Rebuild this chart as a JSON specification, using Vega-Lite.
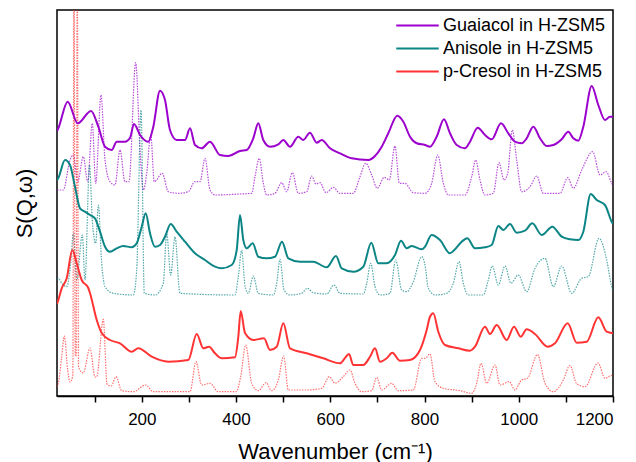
{
  "$schema": "https://vega.github.io/schema/vega-lite/v6.json",
  "width": 556,
  "height": 386,
  "autosize": "none",
  "padding": {"left": 57, "top": 10, "right": 23, "bottom": 66},
  "config": {
    "font": "Liberation Sans",
    "view": {"stroke": "black", "strokeWidth": 1.5},
    "axis": {"grid": false, "labelColor": "black", "titleColor": "black", "titleFontWeight": "normal", "labelFont": "Liberation Sans", "titleFont": "Liberation Sans"}
  },
  "datasets": {
    "guaiacol_exp": [{"w":20,"s":265},{"w":22.8,"s":267.7},{"w":42.7,"s":294.3},{"w":63.9,"s":272.7},{"w":92.2,"s":285},{"w":107.7,"s":269.3},{"w":121.9,"s":249.3},{"w":136.1,"s":246},{"w":146.7,"s":254.3},{"w":164.3,"s":254.3},{"w":174.9,"s":258},{"w":183.4,"s":272},{"w":196.2,"s":261},{"w":213.8,"s":254.3},{"w":224.4,"s":269.3},{"w":238.6,"s":305.3},{"w":249.2,"s":296},{"w":259.8,"s":266},{"w":274,"s":256},{"w":291.7,"s":256},{"w":302.3,"s":267.7},{"w":312.9,"s":251},{"w":327.1,"s":247.7},{"w":344.7,"s":254.3},{"w":365.9,"s":241},{"w":383.6,"s":240},{"w":408.4,"s":245},{"w":422.6,"s":246},{"w":436.6,"s":257.7},{"w":447.2,"s":272.7},{"w":457.8,"s":256},{"w":472,"s":249.3},{"w":489.7,"s":251.7},{"w":500.3,"s":256},{"w":514.5,"s":249.3},{"w":532.1,"s":259.3},{"w":542.7,"s":256},{"w":556.9,"s":263.3},{"w":571.2,"s":253.3},{"w":581.8,"s":256},{"w":599.4,"s":247.7},{"w":620.6,"s":242.7},{"w":645.4,"s":237.7},{"w":680.7,"s":236},{"w":694.9,"s":240},{"w":709.1,"s":249.3},{"w":723.1,"s":262.7},{"w":742.2,"s":280.3},{"w":755,"s":274.3},{"w":769.2,"s":259.3},{"w":783.4,"s":252.7},{"w":801,"s":251},{"w":811.6,"s":249.3},{"w":825.8,"s":259.3},{"w":841.3,"s":276.7},{"w":854.1,"s":262.7},{"w":868.3,"s":251},{"w":885.9,"s":247.7},{"w":896.5,"s":254.3},{"w":912.9,"s":268.3},{"w":928.3,"s":261},{"w":942.6,"s":256.7},{"w":962.3,"s":272.7},{"w":977.8,"s":262.7},{"w":992,"s":254.3},{"w":1006.2,"s":252.7},{"w":1016.8,"s":257.7},{"w":1030.9,"s":269.3},{"w":1045.1,"s":257.7},{"w":1059.3,"s":250},{"w":1073.3,"s":251},{"w":1091.1,"s":256.7},{"w":1105.1,"s":264.3},{"w":1115.8,"s":257.7},{"w":1126.4,"s":255.3},{"w":1137,"s":269.3},{"w":1154.8,"s":310},{"w":1168.8,"s":291},{"w":1183,"s":276},{"w":1193.6,"s":279.3},{"w":1200,"s":279.3}],
    "guaiacol_calc": [{"w":20,"s":206},{"w":33.4,"s":206},{"w":47.6,"s":236},{"w":54.6,"s":241},{"w":63.9,"s":214.3},{"w":75.8,"s":239.3},{"w":85.2,"s":214.3},{"w":94.9,"s":272.7},{"w":102.1,"s":212.7},{"w":113.4,"s":301},{"w":121.9,"s":236},{"w":132.5,"s":214.3},{"w":143.1,"s":211},{"w":153.7,"s":246},{"w":164.3,"s":214.3},{"w":172.8,"s":214.3},{"w":187,"s":333.3},{"w":196.2,"s":246},{"w":203.2,"s":206},{"w":210.4,"s":222.7},{"w":218.9,"s":261},{"w":226.5,"s":214.3},{"w":243.5,"s":222.7},{"w":256.2,"s":204.3},{"w":277.4,"s":202.7},{"w":298.7,"s":204.3},{"w":312.9,"s":214.3},{"w":323.5,"s":214.3},{"w":334.1,"s":237.7},{"w":344.7,"s":206},{"w":355.3,"s":201},{"w":408.4,"s":202},{"w":433.2,"s":202.7},{"w":440.2,"s":219.3},{"w":449.3,"s":237.7},{"w":457.8,"s":212.7},{"w":465,"s":201},{"w":482.7,"s":202.7},{"w":496.9,"s":213.3},{"w":507.5,"s":204.3},{"w":519.4,"s":223.3},{"w":532.1,"s":202.7},{"w":549.9,"s":204.3},{"w":560.5,"s":220},{"w":569.7,"s":212},{"w":578.2,"s":213.3},{"w":590.9,"s":203.3},{"w":606.4,"s":208.7},{"w":620.6,"s":202.7},{"w":648.9,"s":202.7},{"w":663,"s":219.3},{"w":675.1,"s":232.7},{"w":687.9,"s":221},{"w":699.8,"s":207.7},{"w":714.6,"s":218.7},{"w":725.2,"s":216},{"w":737.3,"s":250},{"w":746.5,"s":212.7},{"w":758.5,"s":212.7},{"w":776.2,"s":203.3},{"w":801,"s":202.7},{"w":815.2,"s":212.7},{"w":828,"s":241},{"w":839.9,"s":212.7},{"w":850.5,"s":201},{"w":885.9,"s":201},{"w":900.1,"s":219.3},{"w":908.6,"s":236},{"w":917.7,"s":216},{"w":928.3,"s":201},{"w":946,"s":202.7},{"w":958,"s":233.3},{"w":968.7,"s":216},{"w":976.5,"s":222.7},{"w":986.3,"s":266},{"w":995.6,"s":236},{"w":1006.2,"s":204.3},{"w":1023.9,"s":209.3},{"w":1038.1,"s":220},{"w":1052.1,"s":202.7},{"w":1087.5,"s":202.7},{"w":1103.8,"s":218.3},{"w":1115.8,"s":207.7},{"w":1133.6,"s":226},{"w":1156.9,"s":244.3},{"w":1172.4,"s":221},{"w":1185.1,"s":224.3},{"w":1197.2,"s":212.7},{"w":1200,"s":210}],
    "anisole_exp": [{"w":20,"s":216},{"w":22.8,"s":218},{"w":37,"s":236},{"w":47.6,"s":231},{"w":58.2,"s":209.3},{"w":68.8,"s":187.7},{"w":79.4,"s":184.3},{"w":90,"s":181},{"w":100.6,"s":177.7},{"w":111.3,"s":164.3},{"w":121.9,"s":149.3},{"w":132.5,"s":144.3},{"w":146.7,"s":147.7},{"w":160.7,"s":150},{"w":178.5,"s":148.7},{"w":189.2,"s":152.7},{"w":199.8,"s":169.3},{"w":208.2,"s":182.7},{"w":217.4,"s":162.7},{"w":228,"s":149.3},{"w":238.6,"s":151},{"w":249.2,"s":159.3},{"w":261.3,"s":172},{"w":274,"s":164.3},{"w":291.7,"s":154.3},{"w":312.9,"s":142.7},{"w":334.1,"s":136},{"w":355.3,"s":129.3},{"w":369.5,"s":127.7},{"w":390.8,"s":131},{"w":401.4,"s":146},{"w":408.4,"s":181},{"w":415.4,"s":156},{"w":422.6,"s":147.7},{"w":435.3,"s":152.7},{"w":447.2,"s":139.3},{"w":465,"s":137.7},{"w":482.7,"s":139.3},{"w":497.5,"s":154.3},{"w":510.9,"s":137.7},{"w":535.7,"s":134.3},{"w":563.9,"s":134.3},{"w":592.4,"s":128.7},{"w":612.1,"s":140},{"w":624.2,"s":127.7},{"w":648.9,"s":124.3},{"w":670.1,"s":129.3},{"w":687,"s":153.3},{"w":701.9,"s":132.7},{"w":719.7,"s":132.7},{"w":737.3,"s":141},{"w":750.1,"s":155.3},{"w":762.2,"s":147.7},{"w":772.8,"s":150},{"w":794,"s":146.7},{"w":801,"s":149.3},{"w":815,"s":161},{"w":832.8,"s":156},{"w":854,"s":142.7},{"w":864.7,"s":146.7},{"w":878.9,"s":154.3},{"w":890.7,"s":157.7},{"w":907.1,"s":147.7},{"w":928.3,"s":148.7},{"w":942.6,"s":151},{"w":956.6,"s":170},{"w":967.2,"s":166},{"w":981.4,"s":172},{"w":995.6,"s":163.3},{"w":1013.2,"s":165.3},{"w":1028.7,"s":172.7},{"w":1048.7,"s":161},{"w":1071.2,"s":169.3},{"w":1091.1,"s":159.3},{"w":1108.7,"s":156.7},{"w":1126.4,"s":156},{"w":1137,"s":164.3},{"w":1152.7,"s":202},{"w":1165.4,"s":196},{"w":1183,"s":191},{"w":1197.2,"s":174.3},{"w":1200,"s":172}],
    "anisole_calc": [{"w":20,"s":117},{"w":22.8,"s":117.7},{"w":30,"s":112.7},{"w":40.6,"s":109.3},{"w":49.7,"s":136},{"w":54.6,"s":162.7},{"w":61.8,"s":116},{"w":73.7,"s":161},{"w":79.4,"s":116},{"w":89,"s":231},{"w":94.9,"s":176},{"w":102.1,"s":152.7},{"w":107.7,"s":191},{"w":114.9,"s":132.7},{"w":121.9,"s":109.3},{"w":139.5,"s":102.7},{"w":181.9,"s":101},{"w":189.2,"s":126},{"w":198.3,"s":286},{"w":205.3,"s":102.7},{"w":228,"s":101},{"w":245.6,"s":112.7},{"w":252.8,"s":162.7},{"w":261.3,"s":121},{"w":270.4,"s":159.3},{"w":281,"s":102.7},{"w":397.8,"s":101},{"w":404.8,"s":119.3},{"w":412,"s":146},{"w":419,"s":110},{"w":426,"s":102.7},{"w":436.6,"s":120},{"w":447.2,"s":102.7},{"w":479.1,"s":101},{"w":486.3,"s":112.7},{"w":493.3,"s":136.7},{"w":501.8,"s":106},{"w":514.5,"s":101},{"w":539.3,"s":102.7},{"w":551.2,"s":107.7},{"w":563.9,"s":103.3},{"w":592.4,"s":102},{"w":607.9,"s":111},{"w":620.6,"s":102.7},{"w":670.1,"s":102},{"w":677.3,"s":112.7},{"w":685.8,"s":132.7},{"w":694.9,"s":109.3},{"w":705.5,"s":101},{"w":726.7,"s":102.7},{"w":738.8,"s":136},{"w":751.5,"s":106},{"w":762.2,"s":104.3},{"w":776.2,"s":114.3},{"w":794,"s":139.3},{"w":801,"s":131},{"w":808,"s":107.7},{"w":822.2,"s":101},{"w":847,"s":102.7},{"w":861.1,"s":112.7},{"w":873.2,"s":134.3},{"w":882.3,"s":112.7},{"w":892.9,"s":101},{"w":924.7,"s":101},{"w":935.3,"s":116},{"w":943.8,"s":130},{"w":956.6,"s":111},{"w":970.8,"s":130},{"w":983.5,"s":112.7},{"w":999,"s":121},{"w":1016.8,"s":104.3},{"w":1034.4,"s":127.7},{"w":1055.7,"s":137.7},{"w":1073.3,"s":109.3},{"w":1091.1,"s":130},{"w":1112.3,"s":102.7},{"w":1133.6,"s":117.7},{"w":1147.6,"s":119.3},{"w":1170.3,"s":157.7},{"w":1186.6,"s":136},{"w":1197.2,"s":109.3},{"w":1200,"s":105}],
    "cresol_exp": [{"w":20,"s":92},{"w":22.8,"s":96},{"w":30,"s":107.7},{"w":40.6,"s":117.7},{"w":52.5,"s":146},{"w":61.8,"s":132.7},{"w":72.4,"s":116},{"w":86.4,"s":108},{"w":90,"s":103},{"w":104.3,"s":76},{"w":114.9,"s":63},{"w":132.5,"s":56},{"w":153.7,"s":52.7},{"w":178.5,"s":44.3},{"w":192.5,"s":47.7},{"w":221,"s":39.3},{"w":256.2,"s":34.3},{"w":298.7,"s":36},{"w":316.5,"s":62},{"w":330.5,"s":47.7},{"w":342.6,"s":49.3},{"w":355.3,"s":42.7},{"w":369.5,"s":37.7},{"w":397.8,"s":38.7},{"w":404.8,"s":59.3},{"w":409.9,"s":85},{"w":419,"s":63},{"w":436.6,"s":56},{"w":459.3,"s":57.7},{"w":472,"s":46},{"w":486.3,"s":49.3},{"w":500.3,"s":72.7},{"w":514.5,"s":47.7},{"w":549.9,"s":42.7},{"w":585.2,"s":37.7},{"w":620.6,"s":32.7},{"w":633.3,"s":39.3},{"w":639.7,"s":42},{"w":648.8,"s":31},{"w":670.1,"s":31},{"w":684.3,"s":39.3},{"w":694.9,"s":47.7},{"w":705.5,"s":34.3},{"w":719.7,"s":37.7},{"w":731.6,"s":43.3},{"w":747.9,"s":35.3},{"w":769.2,"s":36},{"w":790.4,"s":46},{"w":804.6,"s":66},{"w":811.6,"s":79.3},{"w":818.6,"s":82.7},{"w":829.2,"s":64.3},{"w":843.4,"s":51},{"w":871.7,"s":47.7},{"w":896.5,"s":45.3},{"w":907.1,"s":49.3},{"w":928.3,"s":69.3},{"w":939,"s":62},{"w":953.2,"s":71},{"w":974.4,"s":56},{"w":989.9,"s":69.3},{"w":1004.1,"s":59.3},{"w":1016.8,"s":66.7},{"w":1034.4,"s":62},{"w":1061.4,"s":49.3},{"w":1076.9,"s":52.7},{"w":1103.8,"s":72.7},{"w":1123,"s":53.3},{"w":1144.2,"s":54.3},{"w":1168.8,"s":78.7},{"w":1186.6,"s":64.3},{"w":1200,"s":62.7}],
    "cresol_calc": [{"w":20,"s":9},{"w":22.8,"s":12.7},{"w":30,"s":39.3},{"w":35.5,"s":60},{"w":42.7,"s":26},{"w":47.6,"s":14},{"w":53.5,"s":20},{"w":56.1,"s":420},{"w":58.7,"s":40},{"w":60.5,"s":40},{"w":63.1,"s":420},{"w":65.7,"s":30},{"w":68.8,"s":26},{"w":75.8,"s":23},{"w":90,"s":48},{"w":100.6,"s":19},{"w":104.3,"s":19.3},{"w":118.3,"s":76.7},{"w":126.1,"s":12},{"w":135,"s":10},{"w":145.2,"s":19.3},{"w":157.3,"s":5.3},{"w":181.9,"s":4.3},{"w":208.2,"s":11},{"w":224.4,"s":4.3},{"w":302.3,"s":4.3},{"w":315,"s":34.3},{"w":327.1,"s":11},{"w":344.7,"s":12.7},{"w":362.3,"s":4.3},{"w":400,"s":4.3},{"w":409.9,"s":19.3},{"w":420.5,"s":51},{"w":433.2,"s":12.7},{"w":447.2,"s":5.3},{"w":463.6,"s":13.3},{"w":475.6,"s":5.3},{"w":489.7,"s":16},{"w":501.1,"s":40},{"w":510.9,"s":6},{"w":549.9,"s":6},{"w":581.8,"s":7.7},{"w":597.9,"s":19.3},{"w":610,"s":12.7},{"w":627.6,"s":19.3},{"w":641.8,"s":26},{"w":652.4,"s":12.7},{"w":666.7,"s":4.3},{"w":687.9,"s":5.3},{"w":698.5,"s":18.7},{"w":709.1,"s":6},{"w":730.3,"s":12.7},{"w":744.3,"s":5.3},{"w":776.2,"s":6},{"w":794,"s":37.7},{"w":801,"s":37.7},{"w":811.6,"s":42},{"w":822.2,"s":14.3},{"w":839.9,"s":7.7},{"w":875.3,"s":5.3},{"w":900.1,"s":2.7},{"w":910.7,"s":12.7},{"w":919.9,"s":32.7},{"w":932,"s":12.7},{"w":949.6,"s":31},{"w":960.2,"s":11},{"w":980,"s":14.3},{"w":992,"s":6},{"w":1006.2,"s":16},{"w":1018.5,"s":17.7},{"w":1039.8,"s":41.5},{"w":1055.7,"s":12.7},{"w":1073.3,"s":4.3},{"w":1094.5,"s":16},{"w":1108.7,"s":30.5},{"w":1123,"s":12.3},{"w":1140.6,"s":9.3},{"w":1168.2,"s":33},{"w":1183,"s":17.7},{"w":1197.2,"s":20.5},{"w":1200,"s":19}]
  },
  "encoding": {
    "x": {"field": "w", "type": "quantitative",
      "scale": {"domain": [20, 1200], "nice": false, "zero": false},
      "axis": {"values": [100,200,300,400,500,600,700,800,900,1000,1100,1200], "format": "d",
        "labelExpr": "datum.value % 200 === 0 ? datum.label : ''",
        "labelOverlap": false, "labelFontSize": 17, "labelPadding": 9,
        "tickSize": 6, "tickWidth": 1.5, "tickColor": "black", "domainColor": "black", "domainWidth": 1.5,
        "title": "Wavenumber (cm⁻¹)", "titleFontSize": 22, "titleY": 62, "titleBaseline": "alphabetic"}},
    "y": {"field": "s", "type": "quantitative",
      "scale": {"domain": [0, 386], "nice": false, "zero": false},
      "axis": {"labels": false, "ticks": false, "domain": false,
        "title": "S(Q,ω)", "titleFontSize": 22, "titleX": -33, "titleY": 193, "titleAngle": -90, "titleAlign": "center", "titleBaseline": "middle"}}
  },
  "layer": [
    {"data": {"name": "guaiacol_calc"}, "mark": {"type": "line", "interpolate": "monotone", "clip": true, "strokeWidth": 1.2, "strokeDash": [1.5, 1.2], "strokeOpacity": 0.7},
     "encoding": {"color": {"datum": "Guaiacol in H-ZSM5", "type": "nominal",
       "scale": {"domain": ["Guaiacol in H-ZSM5", "Anisole in H-ZSM5", "p-Cresol in H-ZSM5"], "range": ["#9C00CC", "#0B8585", "#FF3333"]},
       "legend": {"title": null, "orient": "none", "legendX": 351, "legendY": 6, "symbolType": "M-2.5,0L2.5,0", "symbolSize": 289, "symbolStrokeWidth": 2, "symbolDash": [1, 0], "symbolOpacity": 1, "labelFontSize": 18, "labelFont": "Liberation Sans", "labelColor": "black", "labelLimit": 400, "labelOffset": 16, "rowPadding": 4, "padding": 0}}}},
    {"data": {"name": "anisole_calc"}, "mark": {"type": "line", "interpolate": "monotone", "clip": true, "strokeWidth": 1.2, "strokeDash": [1.5, 1.2], "strokeOpacity": 0.7},
     "encoding": {"color": {"datum": "Anisole in H-ZSM5", "type": "nominal"}}},
    {"data": {"name": "cresol_calc"}, "mark": {"type": "line", "interpolate": "monotone", "clip": true, "strokeWidth": 1.2, "strokeDash": [1.5, 1.2], "strokeOpacity": 0.7},
     "encoding": {"color": {"datum": "p-Cresol in H-ZSM5", "type": "nominal"}}},
    {"data": {"name": "guaiacol_exp"}, "mark": {"type": "line", "interpolate": "monotone", "clip": true, "strokeWidth": 2},
     "encoding": {"color": {"datum": "Guaiacol in H-ZSM5", "type": "nominal"}}},
    {"data": {"name": "anisole_exp"}, "mark": {"type": "line", "interpolate": "monotone", "clip": true, "strokeWidth": 2},
     "encoding": {"color": {"datum": "Anisole in H-ZSM5", "type": "nominal"}}},
    {"data": {"name": "cresol_exp"}, "mark": {"type": "line", "interpolate": "monotone", "clip": true, "strokeWidth": 2},
     "encoding": {"color": {"datum": "p-Cresol in H-ZSM5", "type": "nominal"}}}
  ]
}
